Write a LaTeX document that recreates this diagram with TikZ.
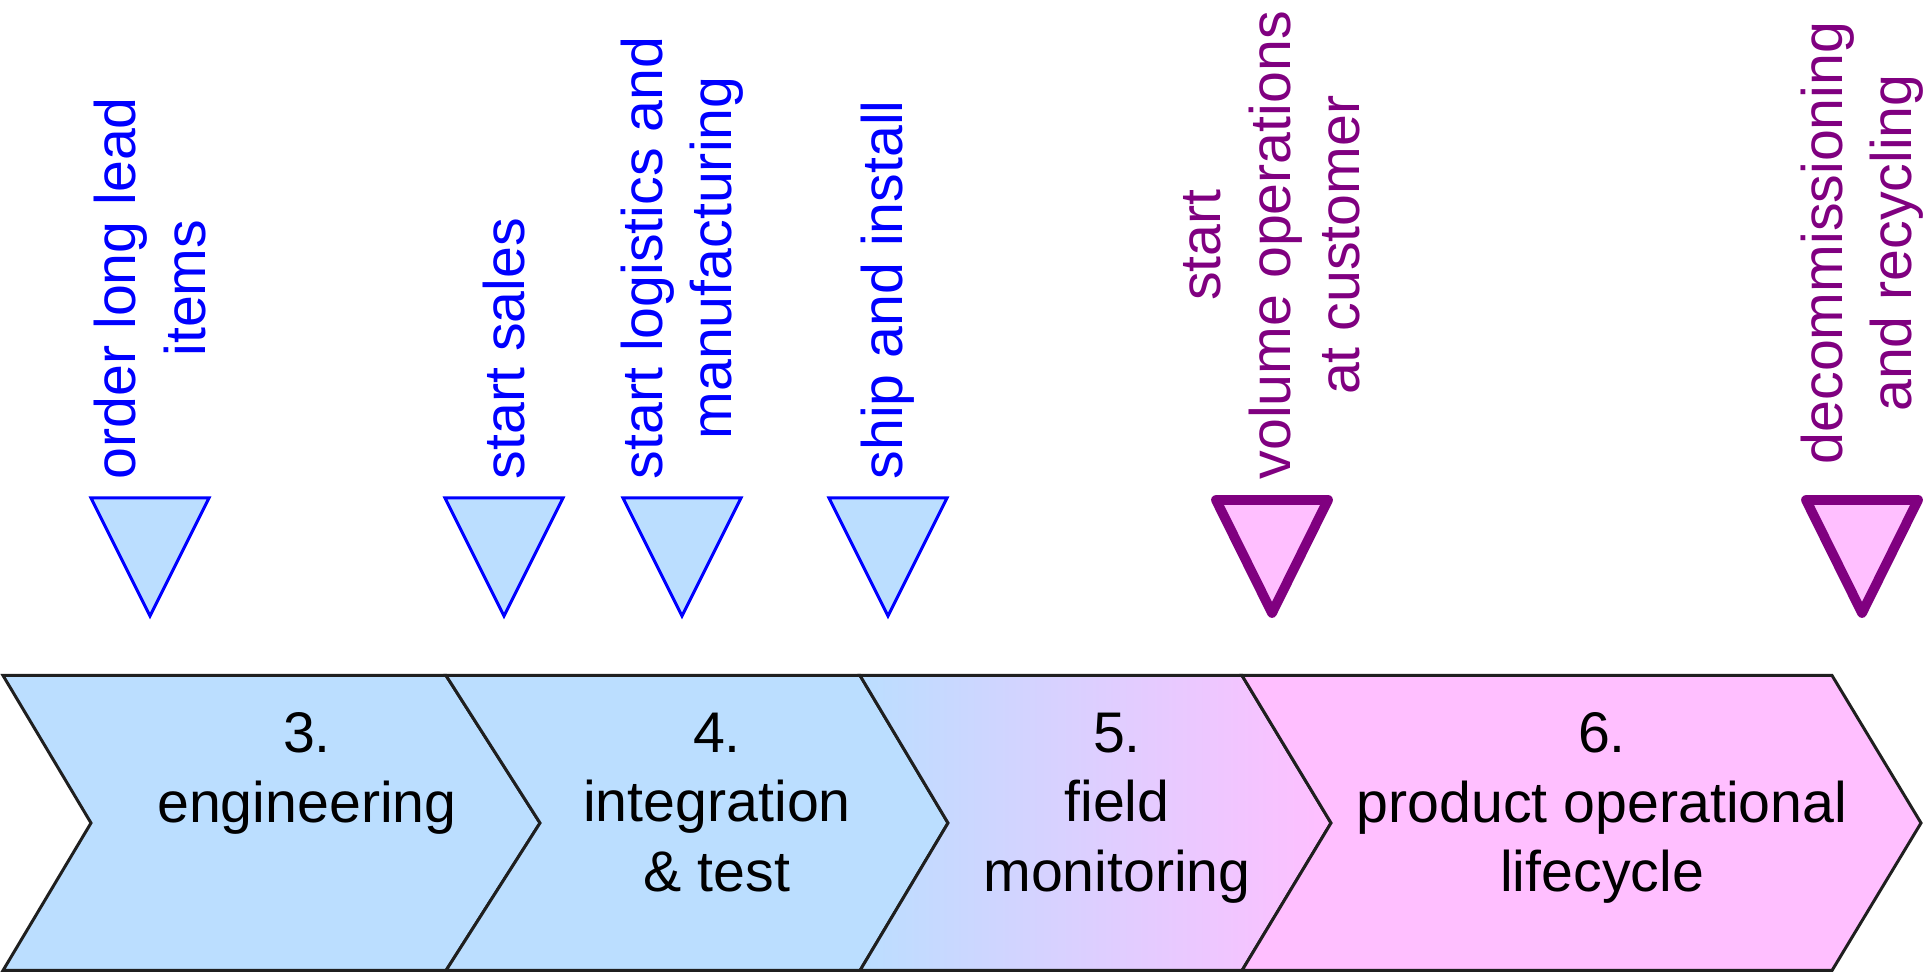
\documentclass[tikz,border=0pt]{standalone}
\usepackage{fontspec}
\setmainfont{Liberation Sans}
\usepackage{tikz}
\usetikzlibrary{shapes}
\usetikzlibrary{calc}
\definecolor{phaseblue}{RGB}{187,222,255}
\definecolor{phasepink}{RGB}{255,191,255}
\definecolor{mileblue}{RGB}{0,0,255}
\definecolor{milepurple}{RGB}{128,0,128}
\tikzset{
  phase/.style={draw=black!88, line width=0.85pt, line join=miter},
  bluemile/.style={fill=phaseblue, draw=mileblue, line width=0.85pt},
  purplemile/.style={fill=phasepink, draw=milepurple, line width=2.8pt, line join=round},
  phasetext/.style={anchor=north, inner sep=0pt, align=center},
  miletext/.style={rotate=90, anchor=west, inner sep=0pt, align=center}
}

\begin{document}
\begin{tikzpicture}[font=\fontsize{16.3pt}{19.8pt}\selectfont]
\useasboundingbox (0,0) rectangle (19.23,9.74);

% phases
\filldraw[phase, fill=phaseblue] (0.03,2.985) -- (4.46,2.985) -- (5.40,1.51) -- (4.46,0.035) -- (0.03,0.035) -- (0.91,1.51) -- cycle;
\filldraw[phase, fill=phaseblue] (4.46,2.985) -- (8.60,2.985) -- (9.48,1.51) -- (8.60,0.035) -- (4.46,0.035) -- (5.40,1.51) -- cycle;
\filldraw[phase, left color=phaseblue, right color=phasepink] (8.60,2.985) -- (12.42,2.985) -- (13.31,1.51) -- (12.42,0.035) -- (8.60,0.035) -- (9.48,1.51) -- cycle;
\filldraw[phase, fill=phasepink] (12.42,2.985) -- (18.32,2.985) -- (19.21,1.51) -- (18.32,0.035) -- (12.42,0.035) -- (13.31,1.51) -- cycle;

\node[phasetext] (eng) at (3.07, 2.62) {3.\\engineering};
\node[phasetext] (integ) at (7.17, 2.62) {4.\\integration\\\& test};
\node[phasetext] (field) at (11.17, 2.62) {5.\\field\\monitoring};
\node[phasetext] (life) at (16.02, 2.62) {6.\\product operational\\lifecycle};

% milestones
\filldraw[bluemile] (0.91,4.76) -- (2.09,4.76) -- (1.50,3.58) -- cycle;
\filldraw[bluemile] (4.45,4.76) -- (5.63,4.76) -- (5.04,3.58) -- cycle;
\filldraw[bluemile] (6.23,4.76) -- (7.41,4.76) -- (6.82,3.58) -- cycle;
\filldraw[bluemile] (8.29,4.76) -- (9.47,4.76) -- (8.88,3.58) -- cycle;
\filldraw[purplemile] (12.16,4.74) -- (13.28,4.74) -- (12.72,3.61) -- cycle;
\filldraw[purplemile] (18.06,4.74) -- (19.18,4.74) -- (18.62,3.61) -- cycle;

\node[miletext, text=mileblue] (order) at (1.50, 4.94) {order long lead\\items};
\node[miletext, text=mileblue] (sales) at (5.04, 4.94) {start sales};
\node[miletext, text=mileblue] (logist) at (6.82, 4.94) {start logistics and\\manufacturing};
\node[miletext, text=mileblue] (ship) at (8.88, 4.94) {ship and install};
\node[miletext, text=milepurple] (volops) at (12.72, 4.94) {start\\volume operations\\at customer};
\node[miletext, text=milepurple] (decom) at (18.62, 5.09) {decommissioning\\and recycling};

\end{tikzpicture}
\end{document}
